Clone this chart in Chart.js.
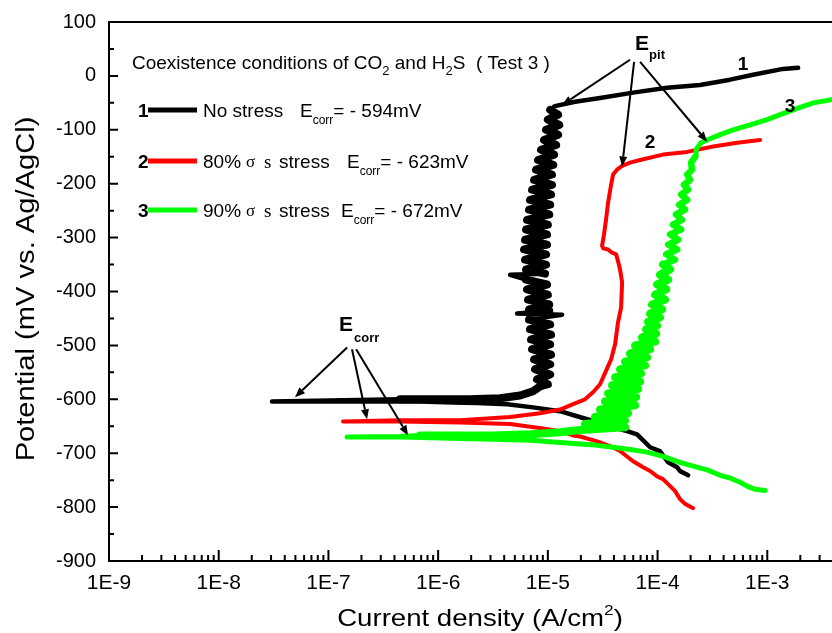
<!DOCTYPE html>
<html lang="en">
<head>
  <meta charset="UTF-8" />
  <title>Polarization curves | CO2 + H2S (Test 3)</title>
  <script src="https://cdn.jsdelivr.net/npm/chart.js"></script>
  <style>
    html, body { margin: 0; padding: 0; overflow: hidden; background: #fff; }
    /* plot runs past the window on the right, like the cropped original */
    #wrap { position: relative; width: 900px; height: 633px; }
  </style>
</head>
<body>
<div id="wrap"><canvas id="polChart"></canvas></div>

<script>
  // ---- values (current in A/cm2, potential in mV) ----
  const xTickValues = [1e-9, 1e-8, 1e-7, 1e-6, 1e-5, 1e-4, 1e-3];
  const xTickLabels = ['1E-9', '1E-8', '1E-7', '1E-6', '1E-5', '1E-4', '1E-3'];
  const yMin = -900, yMax = 100, yStep = 100;

  // 1: no stress
  const noStressI = [
    1.90e-4, 1.60e-4, 1.51e-4, 1.25e-4, 1.05e-4, 8.55e-5, 7.38e-5, 6.50e-5, 5.27e-5, 3.93e-5,
    2.99e-5, 2.28e-5, 1.29e-5, 7.33e-6, 4.25e-6, 2.26e-6, 1.37e-6, 6.84e-7, 2.95e-7, 1.03e-7, 3.06e-8,
    1.03e-7, 4.50e-7, 1.95e-6, 3.67e-6, 5.58e-6, 7.33e-6, 8.49e-6,
    1.00e-5, 7.97e-6, 1.05e-5, 7.65e-6, 1.05e-5, 7.49e-6, 1.07e-5, 7.18e-6, 1.05e-5, 7.03e-6,
    1.07e-5, 6.88e-6, 1.05e-5, 6.74e-6, 1.35e-5, 5.24e-6, 1.03e-5, 6.74e-6, 1.03e-5, 6.60e-6,
    1.00e-5, 6.46e-6, 9.83e-6, 6.33e-6, 4.52e-6, 9.43e-6, 6.33e-6, 9.63e-6, 6.20e-6, 9.63e-6,
    6.07e-6, 9.83e-6, 6.20e-6, 9.83e-6, 6.33e-6, 1.00e-5, 6.46e-6, 1.03e-5, 6.74e-6, 1.05e-5,
    6.88e-6, 1.07e-5, 7.18e-6, 1.09e-5, 7.49e-6, 1.09e-5, 7.80e-6, 1.12e-5, 8.14e-6, 1.14e-5,
    8.67e-6, 1.19e-5, 9.23e-6, 1.24e-5, 9.63e-6, 1.27e-5, 1.00e-5, 1.24e-5, 1.05e-5,
    1.16e-5, 1.77e-5, 2.99e-5, 5.98e-5, 1.22e-4, 2.44e-4, 4.58e-4, 7.42e-4, 1.39e-3, 1.91e-3
  ];
  const noStressE = [
    -741, -733, -726, -717, -696, -689, -676, -665, -659, -652,
    -644, -637, -622, -615, -609, -607, -606, -604, -604, -604, -604,
    -602, -600, -600, -598, -593, -585, -576,
    -572, -563, -554, -544, -535, -526, -517, -507, -498, -489,
    -480, -470, -461, -452, -443, -441, -436, -433, -424, -415,
    -406, -396, -387, -378, -369, -367, -359, -350, -341, -331,
    -322, -313, -304, -294, -285, -276, -267, -257, -248, -239,
    -230, -220, -211, -202, -193, -183, -174, -165, -156, -146,
    -137, -128, -119, -109, -100, -91, -81, -72, -63,
    -56, -48, -41, -31, -22, -17, -7, 2, 13, 15
  ];

  // 2: 80% σs stress
  const stress80I = [
    2.11e-4, 1.78e-4, 1.60e-4, 1.44e-4, 1.30e-4, 1.12e-4, 9.90e-5, 8.55e-5, 7.38e-5, 5.98e-5,
    4.55e-5, 3.69e-5, 2.81e-5, 1.97e-5, 1.70e-5, 1.29e-5, 9.04e-6, 4.52e-6, 1.58e-6, 4.50e-7, 1.36e-7,
    4.50e-7, 1.58e-6, 4.52e-6, 8.49e-6, 1.29e-5, 1.70e-5, 2.18e-5, 2.58e-5, 2.99e-5, 3.46e-5,
    3.77e-5, 4.10e-5, 4.36e-5, 4.65e-5, 4.75e-5, 4.55e-5, 4.36e-5, 4.19e-5, 3.85e-5, 3.54e-5,
    3.19e-5, 3.12e-5, 3.25e-5, 3.39e-5, 3.54e-5, 3.77e-5, 3.93e-5, 4.27e-5, 4.75e-5, 5.61e-5,
    6.93e-5, 1.12e-4, 1.86e-4, 3.21e-4, 5.31e-4, 8.60e-4
  ];
  const stress80E = [
    -802, -794, -785, -770, -761, -748, -743, -733, -726, -715,
    -696, -687, -678, -669, -667, -659, -654, -646, -643, -641, -641,
    -639, -639, -633, -626, -619, -609, -600, -587, -572, -543,
    -526, -498, -457, -430, -383, -359, -344, -331, -328, -322,
    -320, -315, -294, -267, -235, -202, -183, -174, -167, -161,
    -156, -146, -141, -131, -124, -119
  ];

  // 3: 90% σs stress
  const stress90I = [
    9.55e-4, 7.74e-4, 6.55e-4, 5.65e-4, 4.58e-4, 3.72e-4, 2.83e-4, 2.11e-4, 1.60e-4, 1.12e-4,
    8.02e-5, 5.61e-5, 3.93e-5, 2.69e-5, 1.97e-5, 1.29e-5, 6.88e-6, 3.16e-6, 1.04e-6, 4.50e-7, 1.48e-7,
    4.50e-7, 6.84e-7, 3.16e-6, 6.88e-6, 1.29e-5, 1.97e-5,
    5.05e-5, 2.18e-5, 5.05e-5, 2.69e-5, 5.38e-5, 2.99e-5, 6.24e-5, 3.32e-5, 6.37e-5, 3.54e-5,
    6.64e-5, 3.85e-5, 6.93e-5, 4.10e-5, 7.07e-5, 4.55e-5, 7.69e-5, 5.05e-5, 8.02e-5, 5.61e-5,
    8.55e-5, 6.24e-5, 9.49e-5, 7.22e-5, 9.69e-5, 7.86e-5, 9.90e-5, 8.19e-5, 1.05e-4, 8.55e-5,
    1.10e-4, 8.91e-5, 1.17e-4, 9.49e-5, 1.20e-4, 9.90e-5, 1.25e-4, 1.05e-4, 1.30e-4, 1.12e-4,
    1.44e-4, 1.20e-4, 1.51e-4, 1.25e-4, 1.54e-4, 1.30e-4, 1.64e-4, 1.38e-4, 1.67e-4, 1.47e-4,
    1.78e-4, 1.57e-4, 1.86e-4, 1.64e-4, 1.90e-4, 1.74e-4, 1.98e-4, 1.86e-4, 2.06e-4, 2.02e-4,
    2.20e-4, 2.24e-4, 2.49e-4,
    2.83e-4, 3.72e-4, 4.88e-4, 6.97e-4, 9.96e-4, 1.31e-3, 1.72e-3, 2.62e-3, 3.90e-3
  ];
  const stress90E = [
    -769, -767, -761, -754, -746, -741, -731, -724, -717, -706,
    -698, -693, -689, -685, -683, -680, -676, -674, -672, -670, -670,
    -669, -667, -667, -665, -661, -657,
    -652, -646, -639, -633, -626, -619, -611, -604, -596, -589,
    -581, -574, -567, -559, -552, -544, -537, -530, -522, -515,
    -507, -500, -493, -485, -478, -470, -463, -456, -448, -441,
    -433, -424, -415, -406, -396, -387, -378, -369, -359, -350,
    -341, -331, -322, -313, -304, -294, -285, -276, -267, -257,
    -248, -239, -230, -220, -211, -202, -193, -183, -174, -161,
    -150, -137, -124,
    -119, -109, -100, -91, -81, -72, -63, -50, -44
  ];

  // point-index ranges of the noisy (thick) stretches, and single-sample spikes
  const noStressNoisy = [22, 86];
  const noStressSpikes = [41, 42, 43, 51, 52];
  const stress90Noisy = [22, 87];

  // arrow annotations, in data units [current, potential]
  const epitFrom = [[5.61e-5, 30], [6.11e-5, 26], [6.93e-5, 26]];
  const epitTo = [[1.35e-5, -54], [4.75e-5, -168], [2.83e-4, -122]];
  const ecorrFrom = [[1.48e-7, -504], [1.64e-7, -507], [1.79e-7, -507]];
  const ecorrTo = [[4.96e-8, -596], [2.25e-7, -637], [5.32e-7, -667]];
  const epitLabelAt = [6.24e-5, 48];
  const ecorrLabelAt = [1.25e-7, -474];
  const curveNumbers = ['1', '2', '3'];
  const curveNumberAt = [[6.02e-4, 20], [8.55e-5, -124], [1.61e-3, -57]];

  const colors = ['#000000', '#ff0000', '#00ff00'];

  const toPoints = (I, E) => I.map((v, i) => ({ x: v, y: E[i] }));

  const SANS = '"Liberation Sans", Arial, sans-serif';
  const SERIF = '"Liberation Serif", "Times New Roman", serif';
  Chart.defaults.font.family = SANS;
  Chart.defaults.color = '#000';

  function drawRuns(ctx, x, y, parts) {
    for (const [text, font, dy] of parts) {
      ctx.font = font;
      ctx.fillText(text, x, y + (dy || 0));
      x += ctx.measureText(text).width;
    }
    return x;
  }

  function arrow(ctx, x1, y1, x2, y2) {
    const ang = Math.atan2(y2 - y1, x2 - x1), L = 10, W = 4;
    const bx = x2 - L * Math.cos(ang), by = y2 - L * Math.sin(ang);
    ctx.beginPath(); ctx.moveTo(x1, y1); ctx.lineTo(bx, by); ctx.stroke();
    ctx.beginPath();
    ctx.moveTo(x2, y2);
    ctx.lineTo(bx + W * Math.sin(ang), by - W * Math.cos(ang));
    ctx.lineTo(bx - W * Math.sin(ang), by + W * Math.cos(ang));
    ctx.closePath(); ctx.fill();
  }

  // axes frame, inward ticks, legend box text, arrows and titles
  const decorations = {
    id: 'decorations',
    afterDraw(chart) {
      const { ctx, chartArea: a, scales: { x, y } } = chart;
      const px = p => [x.getPixelForValue(p[0]), y.getPixelForValue(p[1])];
      ctx.save();
      ctx.strokeStyle = '#000';
      ctx.fillStyle = '#000';
      ctx.lineWidth = 2;
      ctx.lineCap = 'butt';

      // frame: left, bottom, top
      ctx.beginPath();
      ctx.moveTo(a.left, a.top); ctx.lineTo(a.right, a.top);
      ctx.moveTo(a.left, a.top - 1); ctx.lineTo(a.left, a.bottom + 1);
      ctx.moveTo(a.left - 1, a.bottom); ctx.lineTo(a.right, a.bottom);
      ctx.stroke();

      // y ticks every 50 mV
      ctx.beginPath();
      for (let v = yMin; v <= yMax; v += yStep / 2) {
        const py = y.getPixelForValue(v);
        const len = (v % yStep === 0) ? 9 : 5;
        ctx.moveTo(a.left, py); ctx.lineTo(a.left + len, py);
      }
      // x ticks, decades and 2..9
      for (let e = -9; e <= -3; e++) {
        for (let k = 1; k <= 9; k++) {
          const v = k * Math.pow(10, e);
          const p = x.getPixelForValue(v);
          const len = k === 1 ? 11 : 6;
          ctx.moveTo(p, a.bottom); ctx.lineTo(p, a.bottom - len);
        }
      }
      ctx.stroke();

      // legend block
      const F19 = '19px ' + SANS, F12 = '12px ' + SANS, B19 = 'bold 19px ' + SANS;
      ctx.textAlign = 'left';
      ctx.textBaseline = 'alphabetic';
      drawRuns(ctx, 132, 69, [
        ['Coexistence conditions of CO', F19], ['2', '13px ' + SANS, 6],
        [' and H', F19], ['2', '13px ' + SANS, 6], ['S  ( Test 3 )', F19]
      ]);
      const rows = [
        { y: 117, eX: 300, val: '= - 594mV', name: [['No stress', F19]] },
        { y: 168, eX: 347, val: '= - 623mV', lead: '80%' },
        { y: 217, eX: 341, val: '= - 672mV', lead: '90%' }
      ];
      rows.forEach((r, i) => {
        drawRuns(ctx, 138, r.y, [[curveNumbers[i], B19]]);
        ctx.save();
        ctx.strokeStyle = colors[i]; ctx.lineWidth = 5;
        ctx.beginPath(); ctx.moveTo(148, r.y - 7); ctx.lineTo(197, r.y - 7); ctx.stroke();
        ctx.restore();
        if (r.name) {
          drawRuns(ctx, 203, r.y, r.name);
        } else {
          drawRuns(ctx, 203, r.y, [[r.lead, F19]]);
          drawRuns(ctx, 246, r.y - 1, [['\u03c3', '17px ' + SERIF]]);
          drawRuns(ctx, 264, r.y, [['s', '19px ' + SERIF]]);
          drawRuns(ctx, 279, r.y, [['stress', F19]]);
        }
        drawRuns(ctx, r.eX, r.y, [['E', F19], ['corr', F12, 7], [r.val, F19]]);
      });

      // E_pit and E_corr arrows
      ctx.lineWidth = 2;
      epitFrom.forEach((f, i) => { const a1 = px(f), b1 = px(epitTo[i]); arrow(ctx, a1[0], a1[1], b1[0], b1[1]); });
      ecorrFrom.forEach((f, i) => { const a1 = px(f), b1 = px(ecorrTo[i]); arrow(ctx, a1[0], a1[1], b1[0], b1[1]); });
      const ep = px(epitLabelAt);
      drawRuns(ctx, ep[0], ep[1], [['E', 'bold 21px ' + SANS]]);
      drawRuns(ctx, ep[0] + 14, ep[1] + 9, [['pit', 'bold 13px ' + SANS]]);
      const ec = px(ecorrLabelAt);
      drawRuns(ctx, ec[0], ec[1], [['E', 'bold 21px ' + SANS]]);
      drawRuns(ctx, ec[0] + 15, ec[1] + 11, [['corr', 'bold 13px ' + SANS]]);

      // curve numbers
      ctx.textAlign = 'center';
      ctx.textBaseline = 'middle';
      ctx.font = B19;
      curveNumberAt.forEach((p, i) => { const q = px(p); ctx.fillText(curveNumbers[i], q[0], q[1]); });

      // axis titles (slightly widened, as in the original)
      ctx.textAlign = 'left';
      ctx.textBaseline = 'alphabetic';
      const T = '24px ' + SANS, S = '15px ' + SANS;
      ctx.font = T;
      const w1 = ctx.measureText('Current density (A/cm').width;
      ctx.font = S;
      const w2 = ctx.measureText('2').width;
      ctx.font = T;
      const w3 = ctx.measureText(')').width;
      const sx = 1.15, total = (w1 + w2 + w3) * sx;
      ctx.save();
      ctx.translate(480 - total / 2, 626);
      ctx.scale(sx, 1);
      drawRuns(ctx, 0, 0, [['Current density (A/cm', T], ['2', S, -11], [')', T]]);
      ctx.restore();

      ctx.save();
      ctx.translate(34, 289);
      ctx.rotate(-Math.PI / 2);
      ctx.scale(1.12, 1);
      ctx.font = '26px ' + SANS;
      ctx.textAlign = 'center';
      ctx.fillText('Potential (mV vs. Ag/AgCl)', 0, 0);
      ctx.restore();

      ctx.restore();
    }
  };

  const inRange = (i, r) => i >= r[0] && i < r[1];

  new Chart(document.getElementById('polChart'), {
    type: 'scatter',
    data: {
      datasets: [
        {
          label: '90% σs stress', data: toPoints(stress90I, stress90E), borderColor: colors[2], borderWidth: 5,
          segment: { borderWidth: c => inRange(c.p0DataIndex, stress90Noisy) ? (c.p0DataIndex < 66 ? 8 : 6.5) : 5 }
        },
        { label: '80% σs stress', data: toPoints(stress80I, stress80E), borderColor: colors[1], borderWidth: 4 },
        {
          label: 'No stress', data: toPoints(noStressI, noStressE), borderColor: colors[0], borderWidth: 4.5,
          segment: {
            borderWidth: c => (inRange(c.p0DataIndex, noStressNoisy) && !noStressSpikes.includes(c.p0DataIndex)) ? 8 : 4.5
          }
        }
      ].map(d => Object.assign(d, {
        showLine: true, pointRadius: 0, tension: 0, fill: false,
        borderJoinStyle: 'round', borderCapStyle: 'round'
      }))
    },
    options: {
      responsive: true,
      maintainAspectRatio: false,
      animation: false,
      layout: { padding: { top: 22, right: 23, left: 0, bottom: 0 } },
      plugins: { legend: { display: false }, tooltip: { enabled: false } },
      scales: {
        x: {
          type: 'logarithmic',
          min: 1e-9,
          max: 1e-2,
          grid: { display: false, drawTicks: false },
          border: { display: false },
          afterBuildTicks: s => { s.ticks = xTickValues.map(v => ({ value: v })); },
          afterFit: s => { s.height = 72; },
          ticks: {
            autoSkip: false,
            maxRotation: 0,
            padding: 10,
            font: { size: 21 },
            callback: (v, i) => xTickLabels[i]
          }
        },
        y: {
          min: yMin,
          max: yMax,
          grid: { display: false, drawTicks: false },
          border: { display: false },
          afterFit: s => { s.width = 109; s.paddingTop = 12; s.paddingBottom = 12; },
          ticks: {
            stepSize: yStep,
            padding: 13,
            font: { size: 20 },
            callback: v => String(v)
          }
        }
      }
    },
    plugins: [decorations]
  });
</script>
</body>
</html>
